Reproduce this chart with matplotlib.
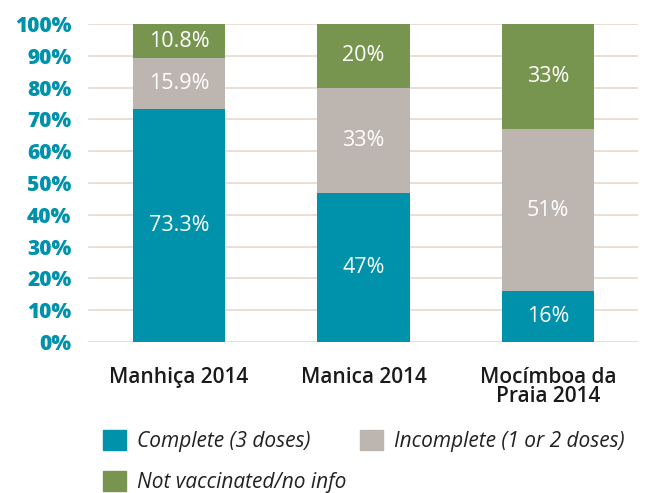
import matplotlib.pyplot as plt
import numpy as np
from matplotlib.patches import Patch

# Vaccination coverage by district
districts = ['Manhiça 2014', 'Manica 2014', 'Mocímboa da\nPraia 2014']
complete = [73.3, 47, 16]
incomplete = [15.9, 33, 51]
not_vacc = [10.8, 20, 33]

complete_lbl = ['73.3%', '47%', '16%']
incomplete_lbl = ['15.9%', '33%', '51%']
not_vacc_lbl = ['10.8%', '20%', '33%']

series_names = ['Complete (3 doses)', 'Incomplete (1 or 2 doses)', 'Not vaccinated/no info']
colors = ['#0091AB', '#BDB5AF', '#78954F']

plt.rcParams['font.family'] = ['Open Sans', 'DejaVu Sans']

fig = plt.figure(figsize=(6.45, 4.93), dpi=100)
ax = fig.add_axes([88/645, 1-342/493, 550/645, 318/493])

x = np.arange(len(districts))
w = 0.5
bottom = np.zeros(len(districts))
for vals, lbls, c in [(complete, complete_lbl, colors[0]),
                      (incomplete, incomplete_lbl, colors[1]),
                      (not_vacc, not_vacc_lbl, colors[2])]:
    bars = ax.bar(x, vals, w, bottom=bottom, color=c, zorder=3)
    ax.bar_label(bars, labels=lbls, label_type='center', color='white', fontsize=15.5)
    bottom += np.array(vals)

ax.set_ylim(0, 100)
ax.set_xlim(-0.493, 2.488)
ax.set_yticks(np.arange(0, 101, 10))
ax.set_yticklabels([f'{v}%' for v in range(0, 101, 10)], color='#0091AB',
                   fontsize=15, fontweight='heavy')
ax.set_xticks(x)
ax.set_xticklabels(districts, fontsize=15, fontweight='semibold', color='#1a1a1a',
                   linespacing=0.9)
ax.tick_params(axis='y', length=0, pad=12)
ax.tick_params(axis='x', length=0, pad=18)
ax.grid(axis='y', color='#E6DCD3', linewidth=1.3, zorder=0)
for s in ax.spines.values():
    s.set_visible(False)

# legend filled row by row like the original
order = [0, 2, 1]
handles = [Patch(color=colors[i]) for i in order]
labels = [series_names[i] for i in order]
fig.legend(handles, labels, ncol=2, loc='upper left',
           bbox_to_anchor=(103/645, 1-430/493), frameon=False,
           borderpad=0, borderaxespad=0,
           prop={'style': 'italic', 'size': 15}, handlelength=1.1,
           handleheight=1.1, handletextpad=0.53, columnspacing=0.65,
           labelspacing=0.9, labelcolor='#222222')

fig.savefig('out.png', dpi=100)
